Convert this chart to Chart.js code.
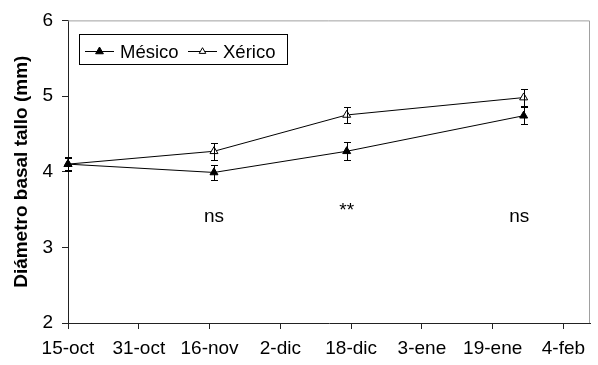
<!DOCTYPE html>
<html>
<head>
<meta charset="utf-8">
<script src="https://cdn.jsdelivr.net/npm/chart.js@4.4.0/dist/chart.umd.min.js"></script>
<style>
  body { margin: 0; background: #fff; }
  #wrap { width: 598px; height: 365px; }
</style>
</head>
<body>
<div id="wrap"><canvas id="diamChart" width="598" height="365"></canvas></div>
<script>
// days counted from 15-oct
const sampleDays = [0, 33, 63, 103];
const mesico = [4.10, 3.99, 4.27, 4.74];
const mesicoErr = [0.09, 0.10, 0.12, 0.11];
const xerico = [4.10, 4.27, 4.75, 4.98];
const xericoErr = [0.08, 0.11, 0.10, 0.11];

const tickDays = [0, 16, 32, 48, 64, 80, 96, 112];
const tickLabels = ["15-oct", "31-oct", "16-nov", "2-dic", "18-dic", "3-ene", "19-ene", "4-feb"];

// significance marks under each date
const sigDays = [33, 63, 102];
const sigText = ["ns", "**", "ns"];
const sigBase = [3.33, 3.42, 3.33];

const FONT = "'Liberation Sans', Arial, sans-serif";
Chart.defaults.font.family = FONT;
Chart.defaults.font.size = 19;
Chart.defaults.color = "#000";

function toPoints(vals) {
  return vals.map((v, i) => ({ x: sampleDays[i], y: v }));
}

function triangle(ctx, cx, cy, r, filled) {
  ctx.beginPath();
  ctx.moveTo(cx, cy - r);
  ctx.lineTo(cx + r * 0.866, cy + r / 2);
  ctx.lineTo(cx - r * 0.866, cy + r / 2);
  ctx.closePath();
  ctx.fillStyle = filled ? "#000" : "#fff";
  ctx.fill();
  ctx.strokeStyle = "#000";
  ctx.lineWidth = 1;
  ctx.stroke();
}

const extras = {
  id: "extras",
  beforeDatasetsDraw(chart) {
    const { ctx, chartArea: a } = chart;
    ctx.save();
    ctx.strokeStyle = "#a0a0a0";
    ctx.lineWidth = 1;
    ctx.beginPath();
    ctx.moveTo(a.left, a.top + 0.5);
    ctx.lineTo(a.right - 0.5, a.top + 0.5);
    ctx.lineTo(a.right - 0.5, a.bottom);
    ctx.stroke();
    ctx.restore();
  },
  afterDatasetsDraw(chart) {
    const { ctx, scales: { x, y } } = chart;
    ctx.save();
    ctx.strokeStyle = "#000";
    ctx.lineWidth = 1;
    [[mesico, mesicoErr], [xerico, xericoErr]].forEach(([vals, errs]) => {
      vals.forEach((v, i) => {
        const px = Math.round(x.getPixelForValue(sampleDays[i])) + 0.5;
        const top = Math.round(y.getPixelForValue(v + errs[i])) + 0.5;
        const bot = Math.round(y.getPixelForValue(v - errs[i])) + 0.5;
        ctx.beginPath();
        ctx.moveTo(px, top); ctx.lineTo(px, bot);
        ctx.moveTo(px - 3.5, top); ctx.lineTo(px + 3.5, top);
        ctx.moveTo(px - 3.5, bot); ctx.lineTo(px + 3.5, bot);
        ctx.stroke();
      });
    });

    ctx.fillStyle = "#000";
    ctx.font = "19px " + FONT;
    ctx.textAlign = "center";
    ctx.textBaseline = "alphabetic";
    sigText.forEach((t, i) => {
      ctx.fillText(t, x.getPixelForValue(sigDays[i]), y.getPixelForValue(sigBase[i]));
    });
    ctx.restore();
  },
  afterDraw(chart) {
    const { ctx } = chart;
    ctx.save();
    ctx.strokeStyle = "#000";
    ctx.lineWidth = 1;
    ctx.strokeRect(79.5, 34.5, 208, 30);
    ctx.font = "18.5px " + FONT;
    ctx.textBaseline = "alphabetic";
    ctx.textAlign = "left";
    const items = [
      { x0: 85, label: chart.data.datasets[0].label, filled: true },
      { x0: 188, label: chart.data.datasets[1].label, filled: false }
    ];
    items.forEach(it => {
      ctx.beginPath();
      ctx.moveTo(it.x0, 51.5);
      ctx.lineTo(it.x0 + 29, 51.5);
      ctx.strokeStyle = "#000";
      ctx.stroke();
      triangle(ctx, it.x0 + 14.5, 51.5, it.filled ? 4.5 : 3.8, it.filled);
      ctx.fillStyle = "#000";
      ctx.fillText(it.label, it.x0 + 35, 58);
    });
    ctx.restore();
  }
};

const ctx = document.getElementById("diamChart").getContext("2d");
new Chart(ctx, {
  type: "line",
  data: {
    datasets: [
      {
        label: "Mésico",
        data: toPoints(mesico),
        borderColor: "#000",
        borderWidth: 1,
        pointStyle: "triangle",
        pointRadius: 4.6,
        pointBackgroundColor: "#000",
        pointBorderColor: "#000",
        pointBorderWidth: 1,
        tension: 0,
        clip: false
      },
      {
        label: "Xérico",
        data: toPoints(xerico),
        borderColor: "#000",
        borderWidth: 1,
        pointStyle: "triangle",
        pointRadius: 4.6,
        pointBackgroundColor: "#fff",
        pointBorderColor: "#000",
        pointBorderWidth: 1,
        tension: 0,
        clip: false
      }
    ]
  },
  options: {
    responsive: false,
    animation: false,
    layout: { padding: { top: 14, right: 8, left: 0, bottom: 0 } },
    plugins: {
      legend: { display: false },
      tooltip: { enabled: false }
    },
    scales: {
      x: {
        type: "linear",
        min: 0,
        max: 118,
        border: { color: "#222", width: 1 },
        grid: { drawOnChartArea: false, drawTicks: true, tickLength: 6, color: "#222" },
        afterBuildTicks: (scale) => { scale.ticks = tickDays.map(v => ({ value: v })); },
        afterFit: (scale) => { scale.height = 42; },
        ticks: {
          padding: 8,
          maxRotation: 0,
          autoSkip: false,
          callback: (v) => tickLabels[tickDays.indexOf(v)]
        }
      },
      y: {
        min: 2,
        max: 6,
        border: { color: "#222", width: 1 },
        grid: { drawOnChartArea: false, drawTicks: true, tickLength: 6, color: "#222" },
        afterFit: (scale) => { scale.width = 68; },
        ticks: { stepSize: 1, padding: 9 },
        title: {
          display: true,
          text: "Diámetro basal tallo (mm)",
          font: { size: 19, weight: "bold" },
          color: "#000",
          padding: { top: 10, bottom: 0 }
        }
      }
    }
  },
  plugins: [extras]
});
</script>
</body>
</html>
